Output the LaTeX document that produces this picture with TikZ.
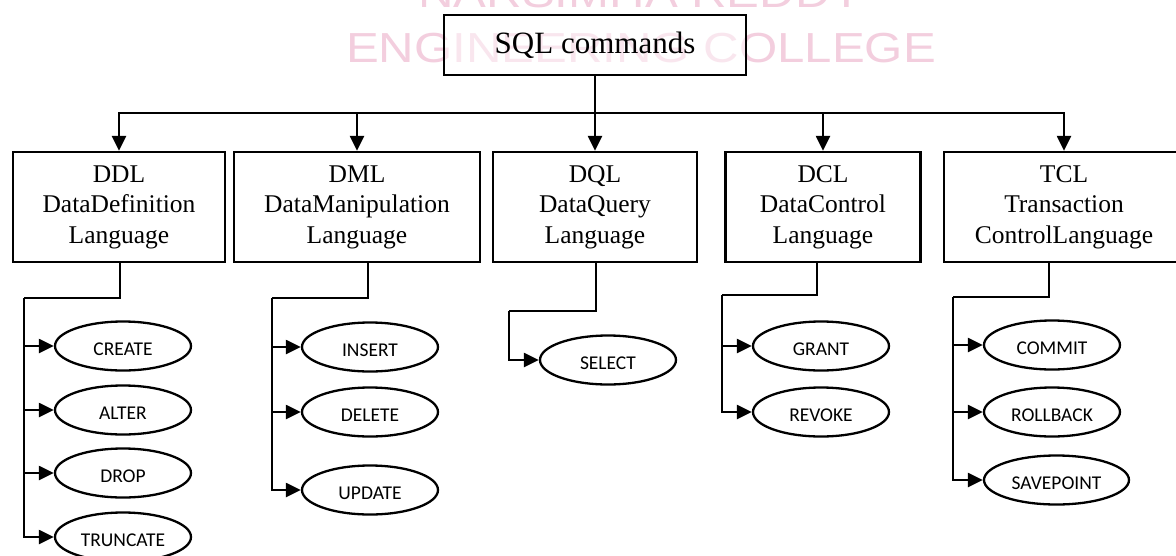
\documentclass[tikz,border=0pt]{standalone}
\usepackage{fontspec}
\usepackage{graphicx}
\setmainfont{Liberation Serif}
\newfontfamily\ellfont{Carlito}
\newfontfamily\wmfont{Liberation Sans}
\usetikzlibrary{arrows.meta,shapes.geometric,calc}
\definecolor{wmpink}{RGB}{243,206,222}
\begin{document}
\begin{tikzpicture}[x=1pt,y=-1pt,
  langbox/.style={draw, line width=2.3pt, minimum height=110pt, align=center,
    font=\fontsize{25.5}{30.5}\selectfont, inner sep=0pt},
  op/.style={ellipse, draw, line width=2.3pt, minimum width=136pt, minimum height=49pt,
    inner sep=0pt, text height=19pt, text depth=0pt,
    font=\ellfont\fontsize{19.5}{20}\selectfont},
  conn/.style={line width=2.3pt},
  arr/.style={conn, -{Triangle[length=15pt,width=14pt]}},
  wmark/.style={anchor=base, text=wmpink, inner sep=0pt, font=\wmfont\fontsize{42}{42}\selectfont}]
\useasboundingbox (0,0) rectangle (1176,555);
\fill[white] (0,0) rectangle (1176,555);
% watermark
\node[wmark] (wm1) at (641,7) {\scalebox{1.17}[1]{NARSIMHA REDDY}};
\node[wmark] (wm2) at (641,62) {\scalebox{1.17}[1]{ENGINEERING COLLEGE}};
% root
\node[draw, line width=2.3pt, minimum width=302pt, minimum height=60pt, inner sep=0pt,
  fill=white, fill opacity=0.5, text opacity=1,
  font=\fontsize{31}{36}\selectfont] (root) at (595,45) {SQL commands};
% language boxes
\node[langbox, minimum width=212pt] (ddl) at (119,207) {DDL\\DataDefinition\\Language};
\node[langbox, minimum width=246pt] (dml) at (357,207) {DML\\DataManipulation\\Language};
\node[langbox, minimum width=204pt] (dql) at (595,207) {DQL\\DataQuery\\Language};
\node[langbox, minimum width=195pt] (dcl) at (823,207) {DCL\\DataControl\\Language};
\node[langbox, minimum width=240pt] (tcl) at (1064,207) {TCL\\Transaction\\ControlLanguage};
% bus
\coordinate (bus) at (595,113);
\draw[conn] (root.south) -- (bus);
\draw[arr] (bus) -| (ddl.north);
\draw[arr] (bus) -| (dml.north);
\draw[arr] (root.south) -- (dql.north);
\draw[arr] (bus) -| (dcl.north);
\draw[arr] (bus) -| (tcl.north);
% commands
\node[op] (create) at (123,346) {CREATE};
\node[op] (alter) at (123,410) {ALTER};
\node[op] (drop) at (123,473) {DROP};
\node[op] (truncate) at (123,537) {TRUNCATE};
\node[op] (insert) at (370,347) {INSERT};
\node[op] (delete) at (370,412) {DELETE};
\node[op] (update) at (370,490) {UPDATE};
\node[op] (select) at (608,360) {SELECT};
\node[op] (grant) at (821,346) {GRANT};
\node[op] (revoke) at (821,412) {REVOKE};
\node[op] (commit) at (1052,345) {COMMIT};
\node[op] (rollback) at (1052,412) {ROLLBACK};
\node[op, minimum width=145pt] (savepoint) at (1056.5,480) {SAVEPOINT};
% branch points
\coordinate (ddlb) at (24,298);
\coordinate (dmlb) at (272,298);
\coordinate (dqlb) at (509,311);
\coordinate (dclb) at (722,295);
\coordinate (tclb) at (953,297);
% DDL
\draw[conn] ($(ddl.south)+(1,0)$) |- (ddlb);
\draw[arr] (ddlb) |- (create.west);
\draw[arr] (ddlb) |- (alter.west);
\draw[arr] (ddlb) |- (drop.west);
\draw[arr] (ddlb) |- (truncate.west);
% DML
\draw[conn] ($(dml.south)+(11,0)$) |- (dmlb);
\draw[arr] (dmlb) |- (insert.west);
\draw[arr] (dmlb) |- (delete.west);
\draw[arr] (dmlb) |- (update.west);
% DQL
\draw[conn] ($(dql.south)+(1,0)$) |- (dqlb);
\draw[arr] (dqlb) |- (select.west);
% DCL
\draw[conn] ($(dcl.south)+(-6,0)$) |- (dclb);
\draw[arr] (dclb) |- (grant.west);
\draw[arr] (dclb) |- (revoke.west);
% TCL
\draw[conn] ($(tcl.south)+(-15,0)$) |- (tclb);
\draw[arr] (tclb) |- (commit.west);
\draw[arr] (tclb) |- (rollback.west);
\draw[arr] (tclb) |- (savepoint.west);
\end{tikzpicture}
\end{document}
